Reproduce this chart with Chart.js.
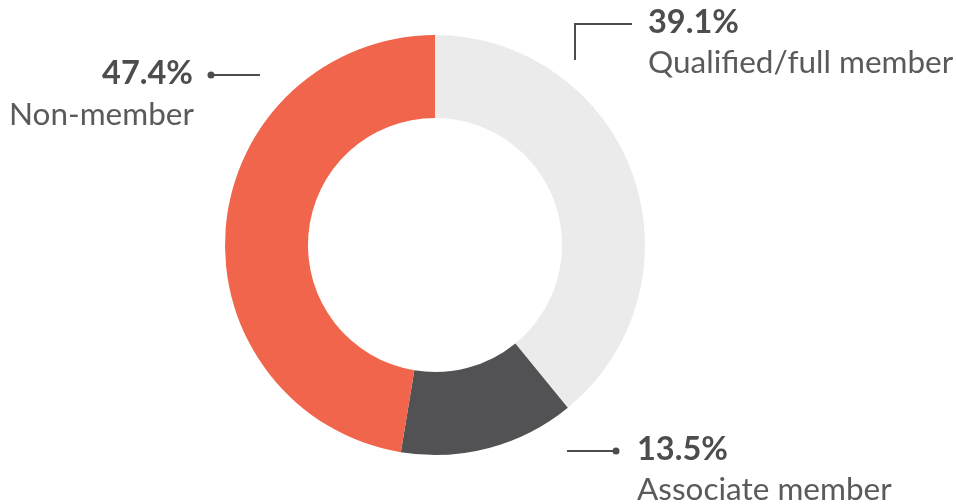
<!DOCTYPE html>
<html>
<head>
<meta charset="utf-8">
<script src="https://cdn.jsdelivr.net/npm/chart.js@4"></script>
<style>
  html, body { margin: 0; padding: 0; background: #fff; }
  #wrap { width: 956px; height: 504px; }
</style>
</head>
<body>
<div id="wrap"><canvas id="donut"></canvas></div>
<script>
var categories = ["Qualified/full member", "Associate member", "Non-member"];
var shares = [39.1, 13.5, 47.4];
var colours = ["#ebebeb", "#525254", "#f0654b"];

// label placement per slice: text anchor, alignment and connector
var callouts = [
  { tx: 648, ty: 23, align: "left", line: [[575, 60], [575, 24], [632, 24]], dot: false },
  { tx: 637, ty: 450, align: "left", line: [[567, 451], [616, 451]], dot: true },
  { tx: 193, ty: 74, align: "right", line: [[260, 75], [211, 75]], dot: true, subX: 9 }
];

var labelPlugin = {
  id: "callouts",
  afterDraw: function (chart) {
    var ctx = chart.ctx;
    ctx.save();
    callouts.forEach(function (c, i) {
      ctx.strokeStyle = "#4d4d4f";
      ctx.lineWidth = 2;
      ctx.beginPath();
      c.line.forEach(function (p, j) {
        if (j === 0) ctx.moveTo(p[0], p[1]); else ctx.lineTo(p[0], p[1]);
      });
      ctx.stroke();
      if (c.dot) {
        var end = c.line[c.line.length - 1];
        ctx.fillStyle = "#4d4d4f";
        ctx.beginPath();
        ctx.arc(end[0], end[1], 3.5, 0, Math.PI * 2);
        ctx.fill();
      }
      ctx.fillStyle = "#4d4d4f";
      ctx.textBaseline = "middle";
      ctx.textAlign = c.align;
      ctx.font = "bold 32.5px Lato";
      ctx.fillText(shares[i].toFixed(1) + "%", c.tx, c.ty);
      ctx.fillStyle = "#5a5a5c";
      ctx.font = "31.5px Lato";
      if (c.subX !== undefined) {
        ctx.textAlign = "left";
        ctx.fillText(categories[i], c.subX, c.ty + 41);
      } else {
        ctx.fillText(categories[i], c.tx, c.ty + 40);
      }
    });
    ctx.restore();
  }
};

new Chart(document.getElementById("donut").getContext("2d"), {
  type: "doughnut",
  data: {
    labels: categories,
    datasets: [{
      data: shares,
      backgroundColor: colours,
      borderWidth: 0
    }]
  },
  options: {
    responsive: true,
    maintainAspectRatio: false,
    animation: false,
    cutout: "60.5%",
    layout: { padding: { left: 225, right: 311, top: 35, bottom: 49 } },
    plugins: {
      legend: { display: false },
      tooltip: { enabled: false }
    }
  },
  plugins: [labelPlugin]
});
</script>
</body>
</html>
